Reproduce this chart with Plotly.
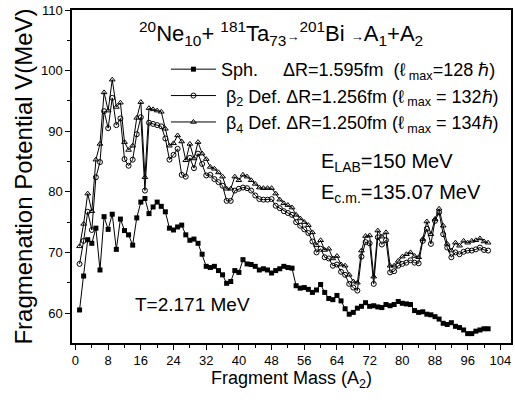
import plotly.graph_objects as go

mass = list(range(1, 102))

v_sph = [60.5, 66.1, 72.1, 71.5, 74.0, 67.1, 75.9, 73.8, 76.3, 70.5,
         75.5, 73.6, 72.9, 71.2, 75.7, 78.3, 78.9, 76.4, 77.5, 78.3,
         77.6, 76.7, 74.0, 73.7, 74.2, 74.5, 72.9, 72.0, 72.2, 71.5,
         69.7, 67.7, 67.5, 67.7, 67.0, 66.3, 64.9, 65.2, 67.0, 66.7,
         68.8, 68.1, 68.0, 67.7, 67.1, 67.3, 67.1, 66.6, 67.0, 67.3,
         67.7, 67.5, 67.4, 64.5, 64.1, 64.2, 63.9, 63.4, 63.8, 64.7,
         63.4, 62.4, 62.2, 62.9, 62.0, 60.7, 59.8, 60.1, 60.8, 61.1,
         61.7, 61.1, 61.2, 61.0, 60.9, 61.4, 61.2, 61.4, 61.9, 61.6,
         61.5, 61.4, 60.4, 60.1, 60.2, 59.8, 59.7, 59.4, 59.0, 58.3,
         58.1, 58.4, 57.8, 57.6, 57.2, 56.6, 56.6, 57.0, 57.2, 57.4,
         57.4]

v_beta2 = [68.1, 71.9, 76.7, 73.7, 82.4, 84.9, 93.3, 90.5, 95.5, 91.0,
           92.1, 85.4, 84.3, 85.3, 89.5, 92.3, 80.2, 91.4, 91.2, 91.0,
           90.8, 88.8, 85.3, 86.1, 87.1, 82.8, 82.5, 85.6, 83.9, 86.3,
           84.6, 82.7, 82.8, 82.1, 81.6, 81.0, 78.5, 78.5, 80.2, 80.5,
           80.7, 80.6, 80.2, 79.4, 78.8, 78.7, 78.7, 78.8, 77.7, 77.3,
           76.8, 76.5, 76.2, 75.0, 74.4, 73.8, 73.2, 71.8, 70.0, 70.6,
           69.2, 69.0, 67.8, 68.0, 66.8, 66.3, 64.8, 64.2, 63.7, 69.3,
           71.7, 71.5, 64.8, 72.5, 71.3, 72.0, 66.7, 66.9, 67.8, 68.1,
           68.3, 68.7, 68.3, 68.2, 71.9, 73.9, 71.4, 75.2, 76.6, 73.0,
           70.8, 69.2, 70.0, 69.7, 70.1, 70.3, 70.3, 70.5, 70.8, 70.4,
           70.3]

v_beta4 = [71.0, 74.7, 79.7, 76.8, 85.3, 87.9, 96.4, 93.4, 98.5, 94.0,
           94.7, 88.2, 86.9, 87.6, 92.2, 94.8, 82.4, 93.8, 93.6, 93.4,
           93.2, 90.4, 87.6, 88.0, 89.3, 88.3, 85.2, 87.9, 85.5, 88.2,
           86.3, 85.4, 84.1, 83.8, 83.2, 82.5, 80.5, 80.5, 82.5, 81.9,
           82.8, 82.5, 81.9, 81.3, 80.7, 80.6, 80.6, 80.6, 79.7, 78.7,
           78.1, 77.8, 77.4, 76.2, 75.6, 75.0, 74.5, 73.3, 71.2, 72.0,
           70.4, 70.6, 69.0, 69.4, 68.0, 67.8, 66.3, 65.2, 65.0, 70.3,
           72.7, 72.8, 66.0, 73.6, 72.6, 73.3, 67.8, 67.8, 68.6, 69.3,
           69.7, 70.0, 69.4, 69.2, 72.2, 75.1, 73.0, 75.5, 77.2, 74.4,
           71.4, 70.3, 71.6, 71.1, 71.9, 71.6, 71.9, 72.0, 72.3, 71.8,
           71.6]

x_ticks = list(range(0, 105, 8))
y_ticks = list(range(60, 111, 10))

NB = "\u00a0"
names = [
    "Sph." + NB * 5 + "ΔR=1.595fm" + NB * 2 + "(ℓ<sub>" + NB + "max</sub>=128" + NB + "ℏ)",
    NB + "β<sub>2</sub> Def." + NB + "ΔR=1.256fm" + NB + "(ℓ<sub>" + NB + "max</sub>" + NB + "=" + NB + "132ℏ)",
    NB + "β<sub>4</sub> Def." + NB + "ΔR=1.250fm" + NB + "(ℓ<sub>" + NB + "max</sub>" + NB + "=" + NB + "134ℏ)",
]

FONT = "Liberation Sans, Arial, sans-serif"

fig = go.Figure()
fig.add_trace(go.Scatter(x=mass, y=v_sph, mode="lines+markers", name=names[0],
                         legendgroup="a",
                         line=dict(color="black", width=1),
                         marker=dict(symbol="square", size=5, color="black")))
fig.add_trace(go.Scatter(x=mass, y=v_beta2, mode="lines+markers", name=names[1],
                         legendgroup="b",
                         line=dict(color="black", width=1),
                         marker=dict(symbol="circle-open", size=5, color="black",
                                     line=dict(width=1))))
fig.add_trace(go.Scatter(x=mass, y=v_beta4, mode="lines+markers", name=names[2],
                         legendgroup="c",
                         line=dict(color="black", width=1),
                         marker=dict(symbol="triangle-up-open", size=5, color="black",
                                     line=dict(width=1))))

fig.update_layout(
    width=515, height=407,
    margin=dict(l=72, r=2, t=10, b=64),
    paper_bgcolor="white", plot_bgcolor="white",
    font=dict(family=FONT, color="black"),
    showlegend=True,
    legend=dict(x=0.214, y=0.877, xanchor="left", yanchor="top",
                bgcolor="rgba(0,0,0,0)", borderwidth=0,
                font=dict(size=18, family=FONT), itemwidth=45,
                tracegroupgap=17, traceorder="normal"),
    xaxis=dict(range=[-0.85, 106.6], tickvals=x_ticks,
               ticks="outside", ticklen=5, tickwidth=1, tickcolor="black",
               minor=dict(dtick=4, ticks="outside", ticklen=3, tickcolor="black"),
               showline=True, linecolor="black", linewidth=1.5, mirror=True,
               showgrid=False, zeroline=False,
               tickfont=dict(size=13, family=FONT),
               title=dict(text="Fragment Mass (A<sub>2</sub>)", font=dict(size=18, family=FONT),
                          standoff=4)),
    yaxis=dict(range=[55.05, 110], tickvals=y_ticks,
               ticks="outside", ticklen=5, tickwidth=1, tickcolor="black",
               minor=dict(dtick=5, ticks="outside", ticklen=3, tickcolor="black"),
               showline=True, linecolor="black", linewidth=1.5, mirror=True,
               showgrid=False, zeroline=False,
               tickfont=dict(size=13, family=FONT),
               title=dict(text="Fragmenation Potential V(MeV)", font=dict(size=24, family=FONT),
                          standoff=2)),
)

fig.add_annotation(xref="paper", yref="paper", x=0.476, y=0.93, xanchor="center", yanchor="middle",
                   showarrow=False, font=dict(size=22, family=FONT),
                   text="<sup>20</sup>Ne<sub>10</sub>+ <sup>181</sup>Ta<sub>73</sub>"
                        "<span style='font-size:13px'>→</span><sup>201</sup>Bi "
                        "<span style='font-size:13px'>→</span>A<sub>1</sub>+A<sub>2</sub>")
fig.add_annotation(xref="paper", yref="paper", x=0.562, y=0.5435, xanchor="left", yanchor="middle",
                   showarrow=False, font=dict(size=20, family=FONT),
                   text="E<sub>LAB</sub>=150 MeV")
fig.add_annotation(xref="paper", yref="paper", x=0.562, y=0.45, xanchor="left", yanchor="middle",
                   showarrow=False, font=dict(size=20, family=FONT),
                   text="E<sub>c.m.</sub>=135.07 MeV")
fig.add_annotation(xref="paper", yref="paper", x=0.14, y=0.117, xanchor="left", yanchor="middle",
                   showarrow=False, font=dict(size=19, family=FONT),
                   text="T=2.171 MeV")

fig.write_html("out.html", config={"displayModeBar": False},
               post_script="document.body.style.margin='0';")
